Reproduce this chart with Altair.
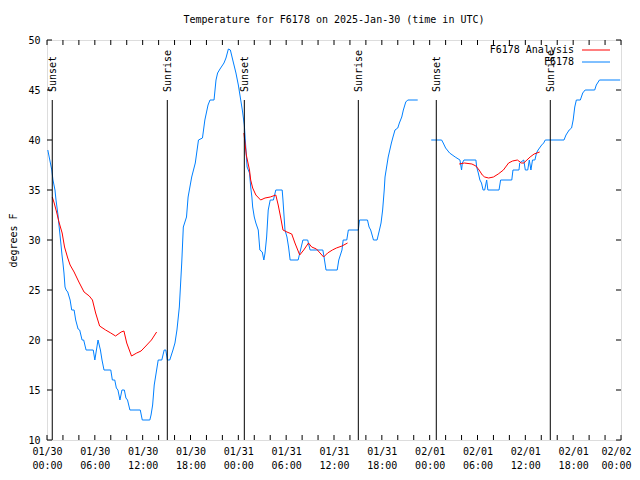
import json
import altair as alt
import pandas as pd

FONT = "DejaVu Sans Mono"
RED = "#ff0000"
BLUE = "#0080ff"

# ---- data (hours since 2025-01-30 00:00 UTC, degrees F) ----
obs1_hours = [0.1, 0.35, 0.6, 0.75, 1.0, 1.13, 1.38, 1.5, 1.63, 1.76, 1.88, 2.0, 2.13, 2.26, 2.4, 2.6, 2.9,
              3.1, 3.4, 3.6, 3.9, 4.1, 4.4, 4.6, 4.9, 5.8, 6.0, 6.4, 6.7, 6.9, 7.15, 8.0, 8.2, 8.5, 8.7,
              8.9, 9.15, 9.4, 9.7, 9.9, 10.1, 10.4, 11.7, 11.95, 12.9, 13.05, 13.25, 13.45, 13.75, 13.95,
              14.4, 14.7, 14.9, 15.1, 15.4, 15.8, 16.05, 16.3, 16.6, 16.9, 17.1, 17.5, 17.7, 18.15, 18.6,
              19.0, 19.5, 19.8, 20.2, 20.45, 20.95, 21.2, 21.4, 21.7, 22.2, 22.45, 22.75, 23.0, 23.3,
              23.7, 24.0, 24.2, 24.5, 24.75, 25.0, 25.1, 25.4, 25.55, 25.7, 25.8, 26.0, 26.2, 26.5, 26.7,
              27.0, 27.2, 27.35, 27.55, 27.75, 28.0, 28.4, 28.7, 29.5, 29.6, 29.85, 30.1, 30.3, 30.5,
              31.5, 31.8, 32.1, 32.7, 33.0, 34.6, 34.75, 35.0, 36.4, 36.6, 37.0, 37.15, 37.6, 37.8,
              39.05, 39.2, 40.2, 40.4, 40.6, 40.85, 40.95, 41.4, 41.7, 41.9, 42.1, 42.3, 42.4, 42.6,
              42.8, 43.0, 43.2, 43.4, 43.65, 44.0, 44.2, 44.5, 44.7, 45.0, 45.25, 46.5]
obs1_temps = [39, 38, 37, 36, 35, 34, 32.5, 31.5, 30.5, 29.5, 28.5, 27.7, 26.7, 25.3, 25, 24.8, 24,
              23, 23, 22, 21.1, 21, 20, 20, 19, 19, 18, 20, 19, 18, 17, 17, 16, 16, 15.2,
              15, 14, 15, 15, 14.2, 14, 13, 13, 12, 12, 12.5, 13.5, 15.5, 17, 18,
              18, 19, 19, 18, 18, 19, 19.7, 21, 23.3, 27.7, 31.3, 32.3, 34.3, 36.3, 37.7,
              40, 40.2, 42, 43.5, 44, 44, 46, 46.7, 47.1, 47.7, 48.2, 49.1, 49, 48,
              46.7, 45.5, 44.5, 43, 41.5, 38.5, 37.3, 36.7, 35.3, 34.3, 33.3, 32.3, 31.7, 31, 29,
              28.8, 28, 28.7, 30.3, 33, 34, 34, 35, 35, 34, 31, 30.3, 29.3, 28,
              28, 29, 30, 30, 29, 29, 28.3, 27, 27, 28, 29, 30, 30, 31,
              31, 32, 32, 31.3, 31, 30.3, 30, 30, 31, 31.7, 33, 35, 36.3, 37.3,
              38.3, 39, 39.7, 40.3, 41, 41.2, 41.7, 42.3, 43, 43.8, 44, 44]

obs2_hours = [48.2, 49.5, 49.7, 50.0, 50.5, 51.2, 51.8, 51.9, 52.0, 52.1, 52.3, 53.8, 53.9, 54.1, 54.3,
              54.5, 54.7, 54.9, 55.15, 55.3, 56.7, 56.9, 58.3, 58.45, 59.2, 59.3, 59.8, 60.0, 60.3,
              60.5, 60.7, 60.9, 61.2, 61.4, 61.6, 62.05, 62.3, 62.5, 64.85, 65.1, 65.5, 65.8, 66.0,
              66.2, 66.4, 66.9, 67.2, 67.5, 68.7, 68.9, 69.3, 71.9]
obs2_temps = [40, 40, 39.7, 39.2, 38.7, 38.3, 38, 37.5, 37, 37.7, 38, 38, 37.3, 36.7, 36,
              35.7, 35, 35, 36, 35, 35, 36, 36, 37, 37, 37.7, 38, 37, 37,
              38, 37, 38, 38, 38.7, 39, 39.5, 39.7, 40, 40, 40.5, 41, 41.2, 42,
              43.3, 44, 44, 44.7, 45, 45, 45.5, 46, 46]

ana1_hours = [0.66, 0.9, 1.2, 1.5, 1.9, 2.2, 2.6, 2.9, 3.4, 4.0, 4.65, 5.3, 5.7, 6.1, 6.6, 7.35, 8.0,
              8.6, 9.3, 9.65, 10.0, 10.6, 11.25, 11.8, 12.4, 13.1, 13.75]
ana1_temps = [34.3, 33.7, 32.8, 31.8, 30.7, 29.3, 28.2, 27.5, 26.8, 25.8, 24.8, 24.4, 24.0, 22.7, 21.4,
              21.0, 20.7, 20.4, 20.8, 20.9, 19.7, 18.4, 18.7, 18.9, 19.4, 20.0, 20.8]
ana2_hours = [24.7, 25.0, 25.4, 25.55, 25.8, 26.2, 26.8, 27.35, 28.0, 28.7, 29.0, 29.3, 29.6, 30.1,
              30.7, 31.1, 31.7, 32.2, 32.8, 33.2, 33.8, 34.7, 35.2, 35.8, 36.3, 37.0, 37.7]
ana2_temps = [40.7, 38.5, 37.0, 36.0, 35.2, 34.5, 34.0, 34.2, 34.3, 34.5, 33.5, 32.3, 31.0, 30.8,
              30.6, 29.7, 28.5, 29.0, 29.7, 29.3, 29.1, 28.3, 28.7, 29.0, 29.2, 29.4, 29.7]
ana3_hours = [51.7, 52.35, 53.3, 53.8, 54.2, 54.6, 54.9, 55.4, 56.0, 56.6, 57.25, 57.9, 58.4, 59.0,
              59.5, 59.8, 60.2, 60.6, 61.1, 61.8]
ana3_temps = [37.6, 37.7, 37.6, 37.4, 37.0, 36.5, 36.3, 36.2, 36.3, 36.6, 37.0, 37.7, 37.9, 38.0,
              37.7, 37.7, 38.0, 38.3, 38.6, 38.8]

sun_hours = [0.66, 15.09, 24.75, 39.05, 48.83, 63.13]
sun_labels = ["Sunset", "Sunrise", "Sunset", "Sunrise", "Sunset", "Sunrise"]

x_tick_hours = [0, 6, 12, 18, 24, 30, 36, 42, 48, 54, 60, 66, 72]
x_day_labels = ["01/30", "01/30", "01/30", "01/30", "01/31", "01/31", "01/31", "01/31",
                "02/01", "02/01", "02/01", "02/01", "02/02"]
x_time_labels = ["00:00", "06:00", "12:00", "18:00", "00:00", "06:00", "12:00", "18:00",
                 "00:00", "06:00", "12:00", "18:00", "00:00"]
x_minor_hours = list(range(0, 73, 2))
y_ticks = [10, 15, 20, 25, 30, 35, 40, 45, 50]

legend_labels = ["F6178 Analysis", "F6178"]

W, H = 574, 400

obs = pd.DataFrame({
    "h": obs1_hours + obs2_hours,
    "t": obs1_temps + obs2_temps,
    "seg": [0] * len(obs1_hours) + [1] * len(obs2_hours),
})
ana = pd.DataFrame({
    "h": ana1_hours + ana2_hours + ana3_hours,
    "t": ana1_temps + ana2_temps + ana3_temps,
    "seg": [0] * len(ana1_hours) + [1] * len(ana2_hours) + [2] * len(ana3_hours),
})
sun = pd.DataFrame({"h": sun_hours, "label": sun_labels})
xminor = pd.DataFrame({"h": x_minor_hours})
yt = pd.DataFrame({"t": y_ticks})
one = pd.DataFrame({"a": [0]})

label_expr = (f"[{json.dumps(x_day_labels)}[round(datum.value/6)], "
              f"{json.dumps(x_time_labels)}[round(datum.value/6)]]")

xscale = alt.Scale(domain=[0, 72], nice=False, zero=False)
yscale = alt.Scale(domain=[10, 50], nice=False, zero=False)

X = alt.X("h:Q", scale=xscale,
          axis=alt.Axis(values=x_tick_hours, labelExpr=label_expr, title=None, grid=False,
                        ticks=False, tickSize=0, domain=False, labelPadding=6,
                        labelLineHeight=14, labelFont=FONT, labelFontSize=10,
                        labelColor="black", labelAngle=0, labelBaseline="top",
                        labelAlign="center", labelFlush=False, labelOverlap=False,
                        labelBound=False,
                        labelOffset={"condition": {"test": "datum.value >= 72", "value": -5},
                                     "value": 0}))
Y = alt.Y("t:Q", scale=yscale,
          axis=alt.Axis(values=y_ticks, title="degrees F", grid=False, ticks=False, tickSize=0,
                        domain=False, labelPadding=7, labelFont=FONT, labelFontSize=10,
                        labelColor="black", labelFlush=False, labelOverlap=False,
                        titleFont=FONT, titleFontSize=10,
                        titleFontWeight="normal", titleColor="black", titlePadding=9))

obs_line = alt.Chart(obs).mark_line(color=BLUE, strokeWidth=1).encode(x=X, y=Y, detail="seg:N")
ana_line = alt.Chart(ana).mark_line(color=RED, strokeWidth=1).encode(
    x=alt.X("h:Q", scale=xscale), y=alt.Y("t:Q", scale=yscale), detail="seg:N")

sun_rules = alt.Chart(sun).mark_rule(color="black", strokeWidth=1).encode(
    x=alt.X("h:Q", scale=xscale), y=alt.datum(44), y2=alt.datum(10))
sun_text = alt.Chart(sun).mark_text(angle=270, align="left", baseline="middle", dy=1,
                                    font=FONT, fontSize=10, color="black").encode(
    x=alt.X("h:Q", scale=xscale), y=alt.datum(44.8), text="label:N")

tick_bottom = alt.Chart(xminor).mark_rule(color="black", strokeWidth=1).encode(
    x=alt.X("h:Q", scale=xscale), y=alt.value(H), y2=alt.value(H - 5))
tick_top = alt.Chart(xminor).mark_rule(color="black", strokeWidth=1).encode(
    x=alt.X("h:Q", scale=xscale), y=alt.value(0), y2=alt.value(5))
tick_left = alt.Chart(yt).mark_rule(color="black", strokeWidth=1).encode(
    y=alt.Y("t:Q", scale=yscale), x=alt.value(0), x2=alt.value(5))
tick_right = alt.Chart(yt).mark_rule(color="black", strokeWidth=1).encode(
    y=alt.Y("t:Q", scale=yscale), x=alt.value(W), x2=alt.value(W - 5))

leg_t1 = alt.Chart(one).mark_text(text=legend_labels[0], align="right", baseline="middle",
                                  font=FONT, fontSize=10, color="black").encode(
    x=alt.value(527), y=alt.value(10))
leg_t2 = alt.Chart(one).mark_text(text=legend_labels[1], align="right", baseline="middle",
                                  font=FONT, fontSize=10, color="black").encode(
    x=alt.value(527), y=alt.value(22))
leg_l1 = alt.Chart(one).mark_rule(color=RED, strokeWidth=1).encode(
    x=alt.value(535), x2=alt.value(563), y=alt.value(10))
leg_l2 = alt.Chart(one).mark_rule(color=BLUE, strokeWidth=1).encode(
    x=alt.value(535), x2=alt.value(563), y=alt.value(22))

chart = alt.layer(
    obs_line, ana_line, sun_rules, sun_text, tick_bottom, tick_top, tick_left, tick_right,
    leg_t1, leg_t2, leg_l1, leg_l2,
).properties(
    width=W, height=H,
    title=alt.TitleParams("Temperature for F6178 on 2025-Jan-30 (time in UTC)", font=FONT,
                          fontSize=10, fontWeight="normal", color="black", anchor="middle",
                          offset=10),
    autosize="none",
    padding={"left": 39, "top": 32, "right": 11, "bottom": 32},
).configure_view(stroke="black", strokeWidth=1).configure(background="white")

chart.save("out.html", embed_options={"renderer": "svg", "actions": False})
